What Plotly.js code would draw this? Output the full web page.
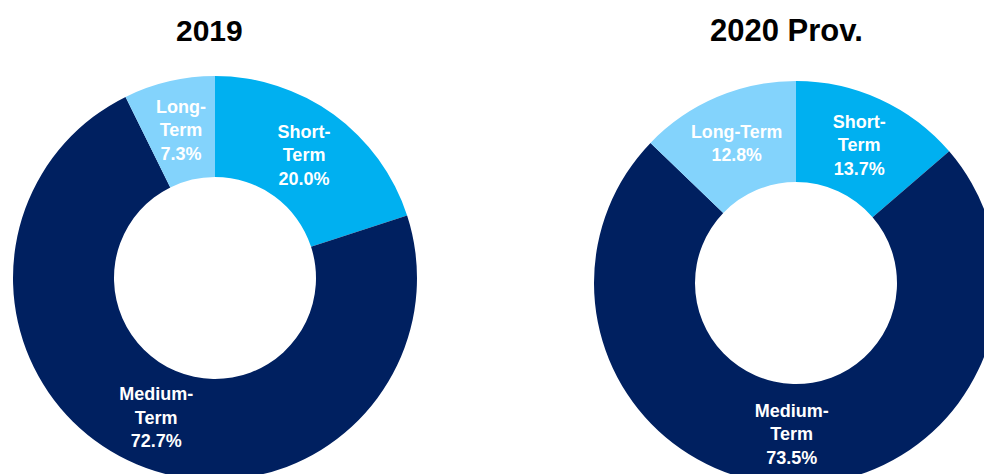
<!DOCTYPE html>
<html>
<head>
<meta charset="utf-8">
<script src="https://cdn.plot.ly/plotly-3.0.1.min.js"></script>
<style>
html,body{margin:0;padding:0;overflow:hidden;background:#fff;}
#chart{width:1000px;height:490px;}
</style>
</head>
<body>
<div id="chart"></div>
<script>
const categories = ["Short-Term", "Medium-Term", "Long-Term"];
const labelText = ["Short-<br>Term", "Medium-<br>Term", "Long-<br>Term"];
const labelText2020 = ["Short-<br>Term", "Medium-<br>Term", "Long-Term"];
const values2019 = [20.0, 72.7, 7.3];
const values2020 = [13.7, 73.5, 12.8];
const titles = ["2019", "2020 Prov."];
const colors = ["#00B0F0", "#002060", "#83D3FC"];

const W = 1000, H = 490;
const HOLE = 0.5;
const FONT = "Liberation Sans, Arial, sans-serif";
function fmt(v){ return v.toFixed(1) + "%"; }

const dom1 = {x: [13 / W, 417 / W], y: [(H - 480) / H, (H - 76) / H]};
const dom2 = {x: [594 / W, 998 / W], y: [(H - 485) / H, (H - 81) / H]};

const common = {
  type: "pie",
  hole: HOLE,
  sort: false,
  direction: "clockwise",
  rotation: 0,
  marker: {colors: colors, line: {width: 0}},
  insidetextorientation: "horizontal",
  textinfo: "text",
  insidetextfont: {family: FONT, size: 18, color: "#ffffff", weight: "bold"},
  hoverinfo: "none",
  showlegend: false
};

const text1 = values2019.map((v, i) => "<b>" + labelText[i] + "<br>" + fmt(v) + "</b>");
const text2 = values2020.map((v, i) => "<b>" + labelText2020[i] + "<br>" + fmt(v) + "</b>");

// The narrow Long-Term slice of 2019 gets its label as an annotation placed at the
// slice's bisector, mid-ring (computed from the data), so it is not shrunk.
const smallIdx = 2;
const trace1 = Object.assign({}, common, {
  labels: categories,
  values: values2019,
  text: text1,
  textposition: values2019.map((v, i) => i === smallIdx ? "none" : "inside"),
  domain: dom1
});
const trace2 = Object.assign({}, common, {
  labels: categories,
  values: values2020,
  text: text2,
  textposition: "inside",
  domain: dom2
});

function sliceLabelPos(values, idx, dom){
  const total = values.reduce((a, b) => a + b, 0);
  let before = 0;
  for (let i = 0; i < idx; i++) before += values[i];
  const a = (before + values[idx] / 2) / total * 2 * Math.PI;
  const cxp = (dom.x[0] + dom.x[1]) / 2 * W;
  const cyp = (dom.y[0] + dom.y[1]) / 2 * H;
  const R = Math.min((dom.x[1] - dom.x[0]) * W, (dom.y[1] - dom.y[0]) * H) / 2;
  const r = R * (1 + HOLE) / 2;
  return {x: (cxp + r * Math.sin(a)) / W, y: (cyp + r * Math.cos(a)) / H};
}
const p = sliceLabelPos(values2019, smallIdx, dom1);

const layout = {
  width: W, height: H,
  margin: {l: 0, r: 0, t: 0, b: 0},
  paper_bgcolor: "#ffffff",
  font: {family: FONT},
  annotations: [
    {text: "<b>" + titles[0] + "</b>", x: 209.5 / W, y: (H - 31) / H, xref: "paper", yref: "paper",
     xanchor: "center", yanchor: "middle", showarrow: false, font: {size: 30, color: "#000000"}},
    {text: "<b>" + titles[1] + "</b>", x: 786 / W, y: (H - 31) / H, xref: "paper", yref: "paper",
     xanchor: "center", yanchor: "middle", showarrow: false, font: {size: 31, color: "#000000"}},
    {text: text1[smallIdx], x: p.x, y: p.y, xref: "paper", yref: "paper",
     xanchor: "center", yanchor: "middle", showarrow: false,
     font: {family: FONT, size: 18, color: "#ffffff"}}
  ]
};

Plotly.newPlot("chart", [trace1, trace2], layout, {displayModeBar: false, staticPlot: true});
</script>
</body>
</html>
